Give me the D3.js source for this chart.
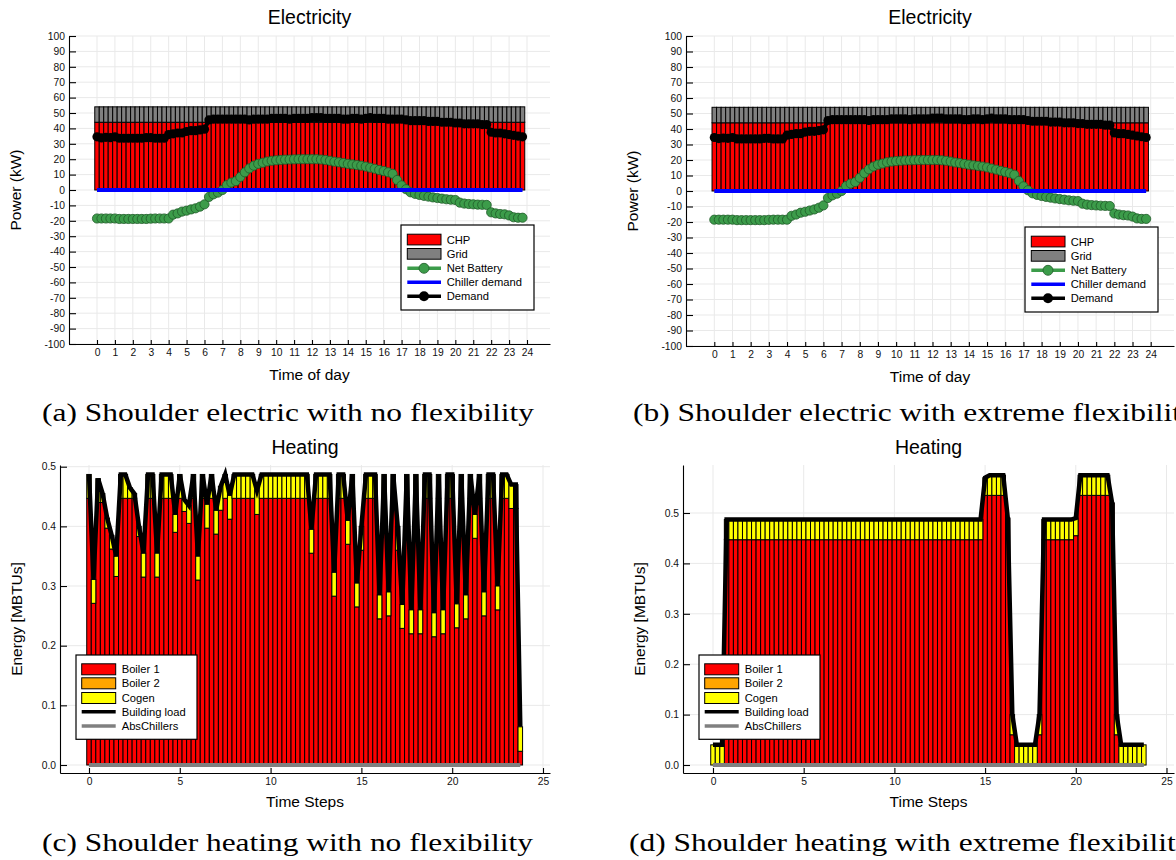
<!DOCTYPE html>
<html>
<head>
<meta charset="utf-8">
<script src="https://cdn.jsdelivr.net/npm/d3@7"></script>
<style>
  body { margin: 0; background: #fff; }
  svg { display: block; }
  text { font-family: "Liberation Sans", Arial, sans-serif; fill: #000; }
  .caption { font-family: "Liberation Serif", "DejaVu Serif", serif; }
</style>
</head>
<body>
<svg id="fig" width="1176" height="860"></svg>
<script>
// quarter-hour time steps, 0 .. 23.75
const steps = d3.range(0, 24, 0.25);

// ---- electricity (a) and (b) look the same in the picture ----
const elecChp = [
  44,44,44,44, 44,44,44,44, 44,44,44,44, 44,44,44,44, 44,44,44,44, 44,44,44,44,
  44,44,44,44, 44,44,44,44, 44,44,44,44, 44,44,44,44, 44,44,44,44, 44,44,44,44,
  44,44,44,44, 44,44,44,44, 44,44,44,44, 44,44,44,44, 44,44,44,44, 44,44,44,44,
  44,44,44,44, 44,44,44,44, 44,44,44,44, 44,44,44,44, 44,44,44,44, 44,44,44,44
];
const elecGrid = [
  10,10,10,10, 10,10,10,10, 10,10,10,10, 10,10,10,10, 10,10,10,10, 10,10,10,10,
  10,10,10,10, 10,10,10,10, 10,10,10,10, 10,10,10,10, 10,10,10,10, 10,10,10,10,
  10,10,10,10, 10,10,10,10, 10,10,10,10, 10,10,10,10, 10,10,10,10, 10,10,10,10,
  10,10,10,10, 10,10,10,10, 10,10,10,10, 10,10,10,10, 10,10,10,10, 10,10,10,10
];
const elecBattery = [
  -18.5,-18.5,-18.5,-18.5, -18.5,-18.8,-18.8,-18.8, -18.8,-18.8,-18.8,-18.8,
  -18.6,-18.5,-18.5,-18.5, -18.5,-16.0,-15.2,-14.0, -13.4,-12.6,-11.9,-10.8,
  -9.3,-4.5,-2.8,-1.7, 0.0,3.2,4.8,5.8, 8.5,11.5,14.0,15.8,
  17.0,17.7,18.5,19.0, 19.3,19.5,19.7,19.8, 19.9,20.0,20.0,20.0,
  20.0,20.0,19.8,19.5, 19.0,18.4,18.0,17.5, 17.0,16.6,16.2,15.8,
  15.2,14.5,13.8,13.0, 12.3,11.5,10.5,6.5, 3.0,0.5,-1.5,-2.5,
  -3.2,-3.8,-4.3,-4.8, -5.2,-5.6,-6.0,-6.3, -6.5,-8.2,-8.8,-9.1,
  -9.3,-9.5,-9.6,-9.7, -14.5,-15.2,-15.6,-15.8, -16.5,-17.7,-18.0,-18.0
];
const elecChiller = [
  0,0,0,0, 0,0,0,0, 0,0,0,0, 0,0,0,0, 0,0,0,0, 0,0,0,0,
  0,0,0,0, 0,0,0,0, 0,0,0,0, 0,0,0,0, 0,0,0,0, 0,0,0,0,
  0,0,0,0, 0,0,0,0, 0,0,0,0, 0,0,0,0, 0,0,0,0, 0,0,0,0,
  0,0,0,0, 0,0,0,0, 0,0,0,0, 0,0,0,0, 0,0,0,0, 0,0,0,0
];
const elecDemand = [
  34.5,33.8,34.2,34.0, 34.5,33.6,33.6,33.6, 33.6,33.6,33.6,34.0, 34.0,33.6,33.6,33.6,
  36.0,36.5,37.0,37.0, 38.0,38.5,38.5,39.0, 39.5,45.5,46.0,46.0, 46.0,46.0,46.0,46.0,
  46.0,46.0,45.5,46.0, 46.0,46.0,46.0,46.5, 46.5,46.5,46.5,46.0, 46.5,46.5,46.5,46.5,
  47.0,47.0,47.0,46.5, 46.5,46.5,46.5,46.0, 46.0,46.5,46.5,46.0, 46.5,47.0,46.5,46.5,
  46.5,46.0,46.0,46.0, 46.0,45.5,45.0,45.0, 45.0,45.0,44.5,44.5, 44.5,44.0,44.0,44.0,
  43.5,43.5,43.0,43.0, 43.0,43.0,42.5,42.5, 37.5,37.0,37.0,36.5, 36.0,35.5,35.0,34.5
];
const elecXTicks = d3.range(0, 25, 1);
const elecYTicks = d3.range(-100, 101, 10);

// ---- heating (c) no flexibility ----
const heatBoiler1C = [
  0.447,0.271,0.440,0.440, 0.397,0.362,0.316,0.447, 0.447,0.447,0.447,0.383,
  0.315,0.447,0.447,0.315, 0.447,0.447,0.447,0.390, 0.447,0.425,0.405,0.447,
  0.310,0.447,0.397,0.447, 0.387,0.427,0.447,0.412, 0.447,0.447,0.447,0.447,
  0.447,0.420,0.447,0.447, 0.447,0.447,0.447,0.447, 0.447,0.447,0.447,0.447,
  0.447,0.355,0.447,0.447, 0.447,0.447,0.283,0.447, 0.447,0.370,0.447,0.265,
  0.360,0.447,0.447,0.447, 0.245,0.447,0.250,0.447, 0.360,0.229,0.447,0.220,
  0.447,0.220,0.447,0.447, 0.215,0.447,0.220,0.447, 0.447,0.230,0.447,0.245,
  0.447,0.380,0.447,0.250, 0.447,0.447,0.260,0.447, 0.447,0.430,0.430,0.023
];
const heatBoiler2C = [
  0,0,0,0, 0,0,0,0, 0,0,0,0, 0,0,0,0, 0,0,0,0, 0,0,0,0,
  0,0,0,0, 0,0,0,0, 0,0,0,0, 0,0,0,0, 0,0,0,0, 0,0,0,0,
  0,0,0,0, 0,0,0,0, 0,0,0,0, 0,0,0,0, 0,0,0,0, 0,0,0,0,
  0,0,0,0, 0,0,0,0, 0,0,0,0, 0,0,0,0, 0,0,0,0, 0,0,0,0
];
const heatCogenC = [
  0.040,0.040,0.040,0.015, 0.017,0.023,0.034,0.040, 0.040,0.018,0.008,0.017,
  0.040,0.040,0.040,0.040, 0.040,0.040,0.040,0.030, 0.040,0.020,0.030,0.040,
  0.040,0.040,0.040,0.040, 0.040,0.040,0.040,0.040, 0.040,0.040,0.040,0.040,
  0.040,0.040,0.040,0.040, 0.040,0.040,0.040,0.040, 0.040,0.040,0.040,0.040,
  0.040,0.040,0.040,0.040, 0.040,0.040,0.040,0.040, 0.040,0.040,0.040,0.040,
  0.040,0.040,0.040,0.040, 0.040,0.040,0.040,0.040, 0.040,0.040,0.040,0.040,
  0.040,0.040,0.040,0.040, 0.040,0.040,0.040,0.040, 0.040,0.040,0.040,0.040,
  0.040,0.040,0.040,0.040, 0.040,0.040,0.040,0.040, 0.040,0.040,0.040,0.041
];
const heatLoadC = [
  0.487,0.311,0.480,0.455, 0.414,0.385,0.350,0.487, 0.487,0.465,0.455,0.400,
  0.355,0.487,0.487,0.355, 0.487,0.487,0.487,0.420, 0.487,0.445,0.435,0.487,
  0.350,0.487,0.437,0.487, 0.427,0.467,0.487,0.452, 0.487,0.487,0.487,0.487,
  0.487,0.460,0.487,0.487, 0.487,0.487,0.487,0.487, 0.487,0.487,0.487,0.487,
  0.487,0.395,0.487,0.487, 0.487,0.487,0.323,0.487, 0.487,0.410,0.487,0.305,
  0.400,0.487,0.487,0.487, 0.285,0.487,0.290,0.487, 0.400,0.269,0.487,0.260,
  0.487,0.260,0.487,0.487, 0.255,0.487,0.260,0.487, 0.487,0.270,0.487,0.285,
  0.487,0.420,0.487,0.290, 0.487,0.487,0.300,0.487, 0.487,0.470,0.470,0.064
];
const heatAbsC = heatBoiler2C;

// ---- heating (d) extreme flexibility ----
const heatBoiler1D = [
  0,0,0,0.447, 0.447,0.447,0.447,0.447, 0.447,0.447,0.447,0.447, 0.447,0.447,0.447,0.447,
  0.447,0.447,0.447,0.447, 0.447,0.447,0.447,0.447, 0.447,0.447,0.447,0.447, 0.447,0.447,0.447,0.447,
  0.447,0.447,0.447,0.447, 0.447,0.447,0.447,0.447, 0.447,0.447,0.447,0.447, 0.447,0.447,0.447,0.447,
  0.447,0.447,0.447,0.447, 0.447,0.447,0.447,0.447, 0.447,0.447,0.447,0.447, 0.535,0.535,0.535,0.535,
  0.535,0.490,0.060,0, 0,0,0,0, 0.060,0.447,0.447,0.447, 0.447,0.447,0.447,0.447,
  0.455,0.535,0.535,0.535, 0.535,0.535,0.535,0.535, 0.520,0.060,0,0, 0,0,0,0
];
const heatBoiler2D = heatBoiler2C;
const heatCogenD = [
  0.040,0.040,0.040,0.040, 0.040,0.040,0.040,0.040, 0.040,0.040,0.040,0.040, 0.040,0.040,0.040,0.040,
  0.040,0.040,0.040,0.040, 0.040,0.040,0.040,0.040, 0.040,0.040,0.040,0.040, 0.040,0.040,0.040,0.040,
  0.040,0.040,0.040,0.040, 0.040,0.040,0.040,0.040, 0.040,0.040,0.040,0.040, 0.040,0.040,0.040,0.040,
  0.040,0.040,0.040,0.040, 0.040,0.040,0.040,0.040, 0.040,0.040,0.040,0.040, 0.035,0.040,0.040,0.040,
  0.040,0,0.040,0.040, 0.040,0.040,0.040,0.040, 0.040,0.040,0.040,0.040, 0.040,0.040,0.040,0.040,
  0.035,0.040,0.040,0.040, 0.040,0.040,0.040,0.040, 0,0.040,0.040,0.040, 0.040,0.040,0.040,0.040
];
const heatLoadD = [
  0.040,0.040,0.040,0.487, 0.487,0.487,0.487,0.487, 0.487,0.487,0.487,0.487, 0.487,0.487,0.487,0.487,
  0.487,0.487,0.487,0.487, 0.487,0.487,0.487,0.487, 0.487,0.487,0.487,0.487, 0.487,0.487,0.487,0.487,
  0.487,0.487,0.487,0.487, 0.487,0.487,0.487,0.487, 0.487,0.487,0.487,0.487, 0.487,0.487,0.487,0.487,
  0.487,0.487,0.487,0.487, 0.487,0.487,0.487,0.487, 0.487,0.487,0.487,0.487, 0.570,0.575,0.575,0.575,
  0.575,0.490,0.100,0.040, 0.040,0.040,0.040,0.040, 0.100,0.487,0.487,0.487, 0.487,0.487,0.487,0.487,
  0.490,0.575,0.575,0.575, 0.575,0.575,0.575,0.575, 0.520,0.100,0.040,0.040, 0.040,0.040,0.040,0.040
];
const heatAbsD = heatBoiler2C;
const heatXTicks = [0, 5, 10, 15, 20, 25];
const heatYTicks = [0, 0.1, 0.2, 0.3, 0.4, 0.5];

const svg = d3.select("#fig");
const GRID = "#e9e9e9";
const GREEN = "#3c9c4a";

// scale that puts value v0 at p0 and v1 at p1, but spans the pixel range lo..hi
function spanScale(v0, p0, v1, p1, lo, hi) {
  const s = d3.scaleLinear().domain([v0, v1]).range([p0, p1]);
  return d3.scaleLinear().domain([s.invert(lo), s.invert(hi)]).range([lo, hi]);
}

function frame(g, x, y, box, xt, yt) {
  g.append("g").selectAll("line").data(xt).join("line")
    .attr("x1", d => x(d)).attr("x2", d => x(d))
    .attr("y1", box.top).attr("y2", box.bottom)
    .attr("stroke", GRID).attr("stroke-width", 1);
  g.append("g").selectAll("line").data(yt).join("line")
    .attr("x1", box.left).attr("x2", box.right)
    .attr("y1", d => y(d)).attr("y2", d => y(d))
    .attr("stroke", GRID).attr("stroke-width", 1);
}

function axes(g, x, y, box, xt, yt, yfmt, xtick) {
  const ax = g.append("g").attr("transform", `translate(0,${box.bottom})`)
    .call(d3.axisBottom(x).tickValues(xt).tickSize(-xtick).tickSizeOuter(0)
      .tickPadding(5).tickFormat(d => String(d)));
  const ay = g.append("g").attr("transform", `translate(${box.left},0)`)
    .call(d3.axisLeft(y).tickValues(yt).tickSize(-7).tickSizeOuter(0)
      .tickPadding(4).tickFormat(yfmt));
  [ax, ay].forEach(a => {
    a.attr("font-family", null).attr("font-size", null);
    a.selectAll("text").style("font-size", "10.3px").style("fill", "#111");
    a.selectAll("path, line").attr("stroke", "#000").attr("stroke-width", 1.1);
  });
}

function elecPanel(box, lg) {
  const g = svg.append("g");
  const x = spanScale(0, box.x0, 24, box.x24, box.left, box.right);
  const y = spanScale(-100, box.bottom, 100, box.top, box.bottom, box.top);
  frame(g, x, y, box, elecXTicks, elecYTicks);

  const table = steps.map((t, i) => ({ t, CHP: elecChp[i], Grid: elecGrid[i] }));
  const stacked = d3.stack().keys(["CHP", "Grid"])(table);
  const fills = { CHP: "#ff0000", Grid: "#808080" };
  const bw = x(0.125) - x(-0.125);
  stacked.forEach(layer => {
    g.append("g").selectAll("rect").data(layer).join("rect")
      .attr("x", d => x(d.data.t) - bw / 2).attr("width", bw)
      .attr("y", d => y(d[1])).attr("height", d => y(d[0]) - y(d[1]))
      .attr("fill", fills[layer.key]).attr("stroke", "#000").attr("stroke-width", 1);
  });

  const line = d3.line().x((d, i) => x(steps[i])).y(d => y(d));
  g.append("path").datum(elecBattery).attr("d", line)
    .attr("fill", "none").attr("stroke", GREEN).attr("stroke-width", 3);
  g.append("g").selectAll("circle").data(elecBattery).join("circle")
    .attr("cx", (d, i) => x(steps[i])).attr("cy", d => y(d)).attr("r", 4.6)
    .attr("fill", GREEN).attr("stroke", "#1f5a28").attr("stroke-width", 0.8);
  g.append("path").datum(elecChiller).attr("d", line)
    .attr("fill", "none").attr("stroke", "#0000ff").attr("stroke-width", 4);
  g.append("path").datum(elecDemand).attr("d", line)
    .attr("fill", "none").attr("stroke", "#000").attr("stroke-width", 4);
  g.append("g").selectAll("circle").data(elecDemand).join("circle")
    .attr("cx", (d, i) => x(steps[i])).attr("cy", d => y(d)).attr("r", 4.6)
    .attr("fill", "#000");

  axes(g, x, y, box, elecXTicks, elecYTicks, d => String(d), 4);

  const cx = (box.left + box.right) / 2;
  g.append("text").attr("x", cx).attr("y", 24).attr("text-anchor", "middle")
    .style("font-size", "19.5px").text("Electricity");
  g.append("text").attr("x", cx).attr("y", box.bottom + 36).attr("text-anchor", "middle")
    .style("font-size", "15.5px").text("Time of day");
  g.append("text").attr("transform", `translate(${box.left - 48},${(box.top + box.bottom) / 2}) rotate(-90)`)
    .attr("text-anchor", "middle").style("font-size", "15.5px").text("Power (kW)");

  // legend
  const L = g.append("g").attr("transform", `translate(${lg.x},${lg.y})`);
  L.append("rect").attr("width", 133).attr("height", 85)
    .attr("fill", "#fff").attr("stroke", "#000").attr("stroke-width", 1.2);
  const rows = [14.5, 28.8, 43.3, 57.3, 71.3];
  L.append("rect").attr("x", 6.3).attr("y", rows[0] - 5.3).attr("width", 33.7).attr("height", 10.7)
    .attr("fill", "#ff0000").attr("stroke", "#000");
  L.append("rect").attr("x", 6.3).attr("y", rows[1] - 5.3).attr("width", 33.7).attr("height", 10.7)
    .attr("fill", "#808080").attr("stroke", "#000");
  L.append("line").attr("x1", 6.3).attr("x2", 40).attr("y1", rows[2]).attr("y2", rows[2])
    .attr("stroke", GREEN).attr("stroke-width", 3.5);
  L.append("circle").attr("cx", 23).attr("cy", rows[2]).attr("r", 5)
    .attr("fill", GREEN).attr("stroke", "#1f5a28").attr("stroke-width", 0.8);
  L.append("line").attr("x1", 6.3).attr("x2", 40).attr("y1", rows[3]).attr("y2", rows[3])
    .attr("stroke", "#0000ff").attr("stroke-width", 3.5);
  L.append("line").attr("x1", 6.3).attr("x2", 40).attr("y1", rows[4]).attr("y2", rows[4])
    .attr("stroke", "#000").attr("stroke-width", 3.5);
  L.append("circle").attr("cx", 23).attr("cy", rows[4]).attr("r", 5).attr("fill", "#000");
  ["CHP", "Grid", "Net Battery", "Chiller demand", "Demand"].forEach((s, i) => {
    L.append("text").attr("x", 45.7).attr("y", rows[i] + 4).style("font-size", "11.2px").text(s);
  });
}

function heatPanel(box, data, lg) {
  const g = svg.append("g");
  const x = spanScale(0, box.x0, 25, box.x25, box.left, box.right);
  const y = spanScale(0, box.y0, 0.5, box.y5, box.bottom, box.top);
  frame(g, x, y, box, heatXTicks, heatYTicks);

  const table = steps.map((t, i) => ({
    t, b1: data.boiler1[i], b2: data.boiler2[i], cg: data.cogen[i]
  }));
  const stacked = d3.stack().keys(["b1", "b2", "cg"])(table);
  const fills = { b1: "#ff0000", b2: "#ffa500", cg: "#ffff00" };
  const bw = x(0.125) - x(-0.125);
  stacked.forEach(layer => {
    g.append("g").selectAll("rect").data(layer.filter(d => d[1] > d[0])).join("rect")
      .attr("x", d => x(d.data.t) - bw / 2).attr("width", bw)
      .attr("y", d => y(d[1])).attr("height", d => y(d[0]) - y(d[1]))
      .attr("fill", fills[layer.key]).attr("stroke", "#000").attr("stroke-width", 1);
  });

  const line = d3.line().x((d, i) => x(steps[i])).y(d => y(d));
  g.append("path").datum(data.load).attr("d", line)
    .attr("fill", "none").attr("stroke", "#000").attr("stroke-width", 4.5);
  g.append("path").datum(data.abs).attr("d", line)
    .attr("fill", "none").attr("stroke", "#808080").attr("stroke-width", 4);

  axes(g, x, y, box, heatXTicks, heatYTicks, d => d.toFixed(1), 5);

  const cx = (box.left + box.right) / 2;
  g.append("text").attr("x", cx).attr("y", 454).attr("text-anchor", "middle")
    .style("font-size", "19.5px").text("Heating");
  g.append("text").attr("x", cx).attr("y", 807).attr("text-anchor", "middle")
    .style("font-size", "15.5px").text("Time Steps");
  g.append("text").attr("transform", `translate(${box.left - 38},${(box.top + box.bottom) / 2}) rotate(-90)`)
    .attr("text-anchor", "middle").style("font-size", "15.5px").text("Energy [MBTUs]");

  const L = g.append("g").attr("transform", `translate(${lg.x},${lg.y})`);
  L.append("rect").attr("width", 121).attr("height", 84.3)
    .attr("fill", "#fff").attr("stroke", "#000").attr("stroke-width", 1.2);
  const rows = [14.3, 28.3, 43, 56.7, 71];
  ["#ff0000", "#ffa500", "#ffff00"].forEach((c, i) => {
    L.append("rect").attr("x", 5.7).attr("y", rows[i] - 5.5).attr("width", 34).attr("height", 11)
      .attr("fill", c).attr("stroke", "#000");
  });
  L.append("line").attr("x1", 5.7).attr("x2", 39.7).attr("y1", rows[3]).attr("y2", rows[3])
    .attr("stroke", "#000").attr("stroke-width", 3.5);
  L.append("line").attr("x1", 5.7).attr("x2", 39.7).attr("y1", rows[4]).attr("y2", rows[4])
    .attr("stroke", "#808080").attr("stroke-width", 3.5);
  ["Boiler 1", "Boiler 2", "Cogen", "Building load", "AbsChillers"].forEach((s, i) => {
    L.append("text").attr("x", 45.7).attr("y", rows[i] + 4).style("font-size", "11.2px").text(s);
  });
}

elecPanel({ left: 69, right: 550, top: 36, bottom: 344, x0: 97, x24: 527 }, { x: 401, y: 225 });
elecPanel({ left: 686, right: 1174, top: 36, bottom: 346, x0: 714.3, x24: 1150.7 }, { x: 1025, y: 227 });

heatPanel({ left: 60, right: 550, top: 465, bottom: 773, x0: 89, x25: 543, y0: 765, y5: 466.7 },
  { boiler1: heatBoiler1C, boiler2: heatBoiler2C, cogen: heatCogenC, load: heatLoadC, abs: heatAbsC },
  { x: 76, y: 655 });
heatPanel({ left: 683, right: 1174, top: 465, bottom: 773, x0: 713, x25: 1166.5, y0: 765, y5: 513 },
  { boiler1: heatBoiler1D, boiler2: heatBoiler2D, cogen: heatCogenD, load: heatLoadD, abs: heatAbsD },
  { x: 699, y: 655 });

// captions (Computer Modern look-alike, stretched to the measured width)
function caption(x, y, s, width, ratio) {
  const t = svg.append("text").attr("class", "caption").attr("x", x).attr("y", y)
    .style("font-size", "26px").text(s);
  const natural = t.node().getComputedTextLength();
  const r = ratio || width / natural;
  t.attr("textLength", natural * r).attr("lengthAdjust", "spacingAndGlyphs");
  return r;
}
const rA = caption(42, 421, "(a) Shoulder electric with no flexibility", 492);
caption(633, 421, "(b) Shoulder electric with extreme flexibility", 0, rA);
const rC = caption(42, 851, "(c) Shoulder heating with no flexibility", 491);
caption(629, 851, "(d) Shoulder heating with extreme flexibility", 0, rC);
</script>
</body>
</html>
